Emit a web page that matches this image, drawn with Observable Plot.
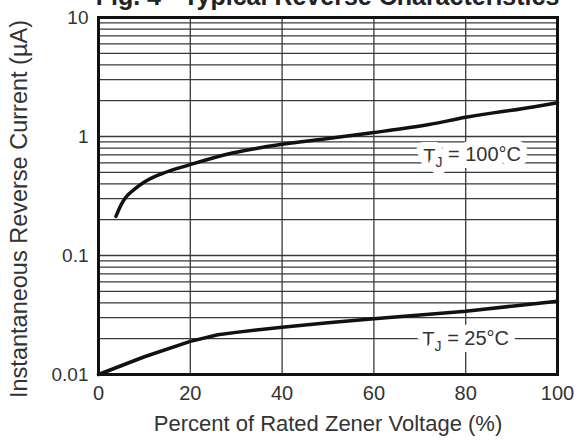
<!DOCTYPE html>
<html>
<head>
<meta charset="utf-8">
<script src="https://cdn.jsdelivr.net/npm/d3@7"></script>
<script src="https://cdn.jsdelivr.net/npm/@observablehq/plot@0.6"></script>
<style>
  html, body { margin: 0; padding: 0; background: #fff; }
  #wrap { position: relative; width: 587px; height: 443px; overflow: hidden; font-family: "Liberation Sans", Arial, sans-serif; }
  #title { position: absolute; left: 34px; width: 587px; top: -16px; text-align: center; font-weight: bold; font-size: 25px; line-height: 25px; color: #222; white-space: nowrap; }
  #chart { position: absolute; left: 0; top: 0; }
</style>
</head>
<body>
<div id="wrap">
  <div id="chart"></div>
  <div id="title">Fig. 4 - Typical Reverse Characteristics</div>
</div>
<script>
// Percent of rated Zener voltage
const x100 = [3.8, 5, 6, 8, 10, 14, 20, 28, 34, 40, 50, 60, 66, 72, 80, 86, 90, 95, 100];
// Reverse current (µA), TJ = 100°C
const i100 = [0.213, 0.27, 0.31, 0.365, 0.415, 0.49, 0.58, 0.71, 0.79, 0.86, 0.96, 1.08, 1.16, 1.26, 1.45, 1.58, 1.66, 1.78, 1.92];
// TJ = 25°C
const x25 = [0, 10, 20, 26, 30, 40, 50, 60, 70, 80, 90, 100];
const i25 = [0.01, 0.0141, 0.019, 0.0216, 0.0226, 0.025, 0.0272, 0.0294, 0.0316, 0.034, 0.0375, 0.0413];

const yTicks = [0.01, 0.1, 1, 10];
const yTickLabels = ["0.01", "0.1", "1", "10"];
const xTicks = [0, 20, 40, 60, 80, 100];
const xGrid = [20, 40, 60, 80];

const seriesLabels = [
  {x: 81.4, y: 0.68, text: "TJ = 100°C"},
  {x: 80, y: 0.0195, text: "TJ = 25°C"}
];

const d100 = x100.map((x, i) => ({x, y: i100[i]}));
const d25 = x25.map((x, i) => ({x, y: i25[i]}));
const yFmt = new Map(yTicks.map((t, i) => [t, yTickLabels[i]]));

const gridColor = "#3a3a3a";
const textColor = "#333";

const chart = Plot.plot({
  width: 587,
  height: 443,
  marginLeft: 98,
  marginRight: 30,
  marginTop: 17,
  marginBottom: 69,
  style: {fontFamily: "Liberation Sans, Arial, sans-serif", color: textColor, background: "#fff"},
  x: {domain: [0, 100]},
  y: {type: "log", domain: [0.01, 10]},
  marks: [
    Plot.gridY({stroke: gridColor, strokeOpacity: 1, strokeWidth: 1.3}),
    Plot.gridX(xGrid, {stroke: gridColor, strokeOpacity: 1, strokeWidth: 1.3}),
    Plot.line(d25, {x: "x", y: "y", stroke: "#111", strokeWidth: 3.5}),
    Plot.line(d100, {x: "x", y: "y", stroke: "#111", strokeWidth: 3.5, curve: "monotone-x"}),
    Plot.text(seriesLabels, {x: "x", y: "y", text: "text", fill: textColor, stroke: "#fff", strokeWidth: 14, paintOrder: "stroke", fontSize: 20, className: "serieslabel"}),
    Plot.frame({stroke: "#111", strokeWidth: 3}),
    Plot.axisY({ticks: yTicks, tickFormat: d => yFmt.get(d), tickSize: 0, tickPadding: 10, fontSize: 19, label: null}),
    Plot.axisX({ticks: xTicks, tickSize: 0, tickPadding: 11, fontSize: 20, label: null}),
    Plot.text(["Percent of Rated Zener Voltage (%)"], {frameAnchor: "bottom", lineAnchor: "middle", dy: 49, fontSize: 22, fill: textColor}),
    Plot.text(["Instantaneous Reverse Current (µA)"], {frameAnchor: "left", textAnchor: "middle", lineAnchor: "middle", dx: -79, dy: 13, rotate: -90, fontSize: 23.5, fill: textColor})
  ]
});

document.getElementById("chart").appendChild(chart);

// subscript J in the series labels
chart.querySelectorAll("g.serieslabel text").forEach(t => {
  const s = t.textContent;
  const rest = s.slice(2);
  t.textContent = "";
  const ns = "http://www.w3.org/2000/svg";
  const a = document.createElementNS(ns, "tspan"); a.textContent = "T";
  const b = document.createElementNS(ns, "tspan"); b.textContent = "J"; b.setAttribute("dy", "0.3em"); b.setAttribute("font-size", "14");
  const c = document.createElementNS(ns, "tspan"); c.textContent = rest; c.setAttribute("dy", "-0.3em");
  t.appendChild(a); t.appendChild(b); t.appendChild(c);
});
</script>
</body>
</html>
